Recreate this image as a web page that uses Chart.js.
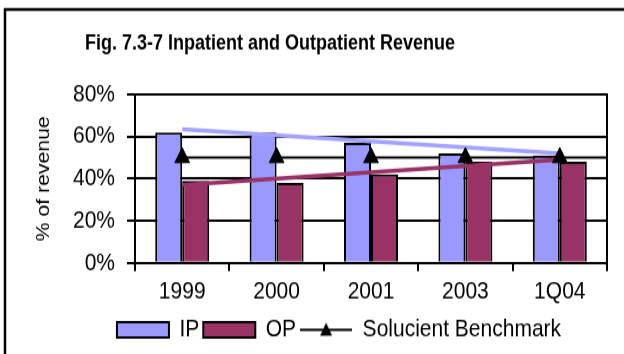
<!DOCTYPE html>
<html>
<head>
<meta charset="utf-8">
<script src="https://cdn.jsdelivr.net/npm/chart.js@4/dist/chart.umd.min.js"></script>
<style>
  html, body { margin: 0; padding: 0; background: #fff; }
  #wrap { position: relative; width: 624px; height: 354px; overflow: hidden; }
</style>
</head>
<body>
<!-- drawn at 300px tall and shown at 354px: gives the tall, narrow lettering -->
<div id="wrap"><canvas id="chart" width="624" height="300" style="display:block;width:624px;height:354px"></canvas></div>
<script>
// revenue split by year, percent
const years = ['1999', '2000', '2001', '2003', '1Q04'];
const ipShare = [62, 62, 57, 52, 51];
const opShare = [39, 38, 42, 48, 48];
const benchmark = [50, 50, 50, 50, 50];
// linear trend endpoints (first and last year only)
const ipTrend = [63.5, null, null, null, 52];
const opTrend = [37, null, null, null, 49];
const yTicks = [0, 20, 40, 60, 80];

const FONT = "'Liberation Sans', Arial, sans-serif";
const IP_COL = '#9999ff';
const OP_COL = '#993366';

// legend icon for the benchmark: short line with a triangle
function benchIcon(){
  const c = document.createElement('canvas');
  c.width = 52; c.height = 14;
  const g = c.getContext('2d');
  g.strokeStyle = '#000'; g.lineWidth = 2;
  g.beginPath(); g.moveTo(0, 7); g.lineTo(52, 7); g.stroke();
  g.fillStyle = '#000';
  g.beginPath(); g.moveTo(26, 1); g.lineTo(32, 12); g.lineTo(20, 12); g.closePath(); g.fill();
  return c;
}

// frame, title, plot border and the benchmark rule behind the bars
const decor = {
  id: 'decor',
  afterLayout(chart){
    // legend sits a little right of centre
    if (chart.legend) chart.legend.left += 38;
  },
  beforeDraw(chart){
    const ctx = chart.ctx;
    ctx.save();
    ctx.strokeStyle = '#000'; ctx.lineWidth = 2.5;
    ctx.beginPath(); ctx.moveTo(5, 320); ctx.lineTo(5, 8); ctx.lineTo(630, 8); ctx.stroke();
    ctx.fillStyle = '#000';
    ctx.font = "bold 18px " + FONT;
    ctx.textAlign = 'center'; ctx.textBaseline = 'middle';
    ctx.fillText('Fig. 7.3-7 Inpatient and Outpatient Revenue', 270, 37);
    ctx.restore();
  },
  beforeDatasetsDraw(chart){
    const { ctx, chartArea, scales } = chart;
    const y = scales.y.getPixelForValue(benchmark[0]);
    const x0 = scales.x.getPixelForValue(0);
    ctx.save();
    ctx.strokeStyle = '#000'; ctx.lineWidth = 2;
    ctx.beginPath(); ctx.moveTo(x0, y); ctx.lineTo(chartArea.right, y); ctx.stroke();
    ctx.restore();
  },
  afterDatasetsDraw(chart){
    const { ctx, chartArea } = chart;
    ctx.save();
    ctx.strokeStyle = '#000'; ctx.lineWidth = 2;
    ctx.beginPath();
    ctx.moveTo(chartArea.left, chartArea.top);
    ctx.lineTo(chartArea.right, chartArea.top);
    ctx.lineTo(chartArea.right, chartArea.bottom);
    ctx.stroke();
    ctx.restore();
  }
};

new Chart(document.getElementById('chart'), {
  data: {
    labels: years,
    datasets: [
      { type: 'line', label: 'IP trend', data: ipTrend, spanGaps: true, borderColor: '#a3a3ff', borderWidth: 3.5, pointRadius: 0, order: 1 },
      { type: 'line', label: 'OP trend', data: opTrend, spanGaps: true, borderColor: OP_COL, borderWidth: 3.5, pointRadius: 0, order: 1 },
      { type: 'line', label: 'Solucient Benchmark', data: benchmark, showLine: false, pointStyle: 'triangle', pointRadius: 8.5, pointBackgroundColor: '#000', pointBorderColor: '#000', borderColor: '#000', order: 0 },
      { type: 'bar', label: 'IP', data: ipShare, backgroundColor: IP_COL, borderColor: '#000', borderWidth: 2, order: 2 },
      { type: 'bar', label: 'OP', data: opShare, backgroundColor: OP_COL, borderColor: '#000', borderWidth: 2, order: 2 }
    ]
  },
  options: {
    responsive: false,
    maintainAspectRatio: false,
    animation: false,
    events: [],
    categoryPercentage: 0.572,
    barPercentage: 1,
    layout: { padding: { top: 80, right: 17, left: 33, bottom: 0 } },
    scales: {
      x: {
        offset: true,
        grid: { display: true, offset: true, drawOnChartArea: false, color: '#000', lineWidth: 2, tickLength: 7 },
        border: { display: true, color: '#000', width: 2 },
        ticks: { color: '#000', font: { family: FONT, size: 21 }, padding: 5, maxRotation: 0 }
      },
      y: {
        min: 0, max: 80,
        afterBuildTicks(scale){ scale.ticks = yTicks.map(v => ({ value: v })); },
        afterFit(scale){ scale.width = 102; },
        grid: { color: '#000', lineWidth: 2, tickLength: 8 },
        border: { display: true, color: '#000', width: 2 },
        ticks: { color: '#000', font: { family: FONT, size: 21 }, padding: 12, callback: v => v + '%' },
        title: { display: true, text: '% of revenue', color: '#000', font: { family: FONT, size: 18 }, padding: { top: 0, bottom: 0 } }
      }
    },
    plugins: {
      title: { display: false },
      tooltip: { enabled: false },
      legend: {
        position: 'bottom',
        labels: {
          color: '#000',
          font: { family: FONT, size: 21 },
          boxWidth: 52, boxHeight: 13,
          usePointStyle: true,
          pointStyleWidth: 52,
          padding: 4,
          filter: item => item.text !== 'IP trend' && item.text !== 'OP trend',
          sort: (a, b) => {
            const rank = { 'IP': 0, 'OP': 1, 'Solucient Benchmark': 2 };
            return rank[a.text] - rank[b.text];
          },
          generateLabels(chart){
            const items = Chart.defaults.plugins.legend.labels.generateLabels(chart);
            items.forEach(it => {
              if (it.text === 'Solucient Benchmark') {
                it.pointStyle = benchIcon();
              } else {
                it.pointStyle = 'rect';
                it.lineWidth = 2;
                it.strokeStyle = '#000';
              }
            });
            return items;
          }
        }
      }
    }
  },
  plugins: [decor]
});
</script>
</body>
</html>
